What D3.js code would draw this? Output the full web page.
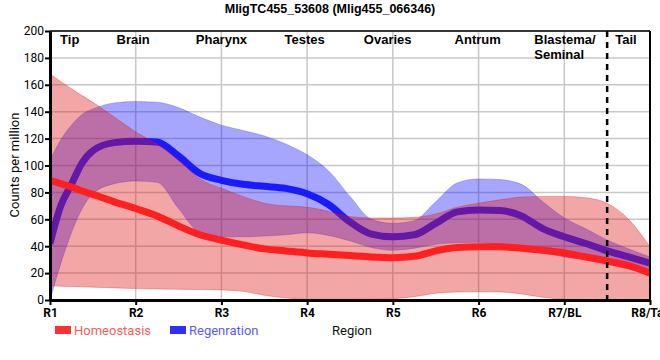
<!DOCTYPE html>
<html><head><meta charset="utf-8">
<script src="https://cdn.jsdelivr.net/npm/d3@7"></script>
<style>html,body{margin:0;padding:0;background:#fff;}svg{display:block;font-family:"Liberation Sans",Arial,sans-serif;}</style>
</head><body><svg id="c" width="660" height="360"></svg>
<script>
// ---- data ----
const title = "MligTC455_53608 (Mlig455_066346)";
const tickLabels = ["R1","R2","R3","R4","R5","R6","R7/BL","R8/Tail"];
const regionNames = ["Tip","Brain","Pharynx","Testes","Ovaries","Antrum","Blastema/|Seminal","Tail"];
const regionPos = [0.23,0.97,2.0,2.97,3.94,4.99,5.65,6.72];
const seriesNames = ["Homeostasis","Regenration"];
const yTicks = [0,20,40,60,80,100,120,140,160,180,200];
// sample positions (region units, 0 = R1)
const pos = [0,0.125,0.25,0.375,0.5,0.75,1,1.25,1.5,1.75,2,2.25,2.5,2.75,3,3.25,3.5,3.75,4,4.25,4.5,4.75,5,5.25,5.5,5.75,6,6.25,6.5,6.75,7];
const homeoMean  = [89,86.5,84,81,78.5,73,68,62.5,55,48.5,44.5,41,38,36.5,35,34,33,32,31.5,32.5,36.5,39,39.5,39.5,38.5,37,35,32,29,25.5,20];
const homeoUpper = [168,162.5,157,152,147,136,125,116,104,90,83,77,72,70,69,66,62,61,61,61.5,64,69,72,74.5,76.5,77,77,76,72,60,39.5];
const homeoLower = [10.5,10.3,10,9.8,9.5,9,8.5,8.2,8,7.8,7.5,6.5,3.5,1.5,0.5,0.5,0.5,0.7,1,2.5,5,6,6.2,6,4.5,2,0.5,0,0,0,0];
const regenMean  = [42,70,86,102,111,117,118,117.5,107,94,89,86,84.5,83,79,71,58,49,47,48.5,57,65.5,67,66.5,62.5,53,47,42,36.5,32,27.5];
const regenUpper = [104,119,130,138,142,146.5,147.5,147,143,136,130,126,122,116,108,96,77,60,57,59,73,87,90,89.5,86,73,61,53,44.6,38,32];
const regenLower = [0,27,50,68,79,86.5,88.5,87.5,68,50,47,47,47.5,48.5,50,48,44,39,37,38.5,41.5,42.5,43,41,39,35.5,32,30,27.5,24,21];

// ---- layout ----
const svg = d3.select("#c");
const L=50,R=650,T=31,B=300;
const x = d3.scaleLinear().domain([0,7]).range([L,R]);
const y = d3.scaleLinear().domain([0,200]).range([B,T]);
const red="#e01818", blue="#1a1aff";

svg.append("defs").append("clipPath").attr("id","clip").append("rect")
  .attr("x",L).attr("y",T).attr("width",R-L).attr("height",B-T);

// grid
const g = svg.append("g");
g.selectAll(".hg").data(yTicks.slice(1)).join("line")
  .attr("x1",L).attr("x2",R).attr("y1",d=>y(d)).attr("y2",d=>y(d))
  .attr("stroke","#c8c8c8").attr("stroke-width",1.5);
g.selectAll(".vg").data(d3.range(1,7)).join("line")
  .attr("x1",d=>x(d)).attr("x2",d=>x(d)).attr("y1",T).attr("y2",B)
  .attr("stroke","#c8c8c8").attr("stroke-width",1.5);

const curve = d3.curveMonotoneX;
const area = (up,lo)=> d3.area().curve(curve).x((d,i)=>x(pos[i])).y0((d,i)=>y(lo[i])).y1((d,i)=>y(up[i]))(pos);
const line = (m)=> d3.line().curve(curve).x((d,i)=>x(pos[i])).y((d,i)=>y(m[i]))(pos);

const plot = svg.append("g").attr("clip-path","url(#clip)");
plot.append("path").attr("d",area(regenUpper,regenLower)).attr("fill","#0000ff").attr("fill-opacity",0.35)
  .attr("stroke","#3030ff").attr("stroke-opacity",0.3).attr("stroke-width",1);
plot.append("path").attr("d",line(regenMean)).attr("fill","none").attr("stroke",blue).attr("stroke-width",7);
plot.append("path").attr("d",area(homeoUpper,homeoLower)).attr("fill","#dc1414").attr("fill-opacity",0.38)
  .attr("stroke","#dc1414").attr("stroke-opacity",0.3).attr("stroke-width",1);
plot.append("path").attr("d",line(homeoMean)).attr("fill","none").attr("stroke","#ff1f1f").attr("stroke-width",7);

// dashed divider
svg.append("line").attr("x1",x(6.5)).attr("x2",x(6.5)).attr("y1",T).attr("y2",B)
  .attr("stroke","#000").attr("stroke-width",2.5).attr("stroke-dasharray","6,5");

// frame
svg.append("line").attr("x1",L).attr("x2",R).attr("y1",T).attr("y2",T).attr("stroke","#000").attr("stroke-width",1.5);
svg.append("line").attr("x1",R).attr("x2",R).attr("y1",T).attr("y2",B).attr("stroke","#000").attr("stroke-width",2);

// axes
const yAxis = svg.append("g").attr("transform",`translate(${L},0)`)
  .call(d3.axisLeft(y).tickValues(yTicks).tickSize(5).tickSizeOuter(0));
const xAxis = svg.append("g").attr("transform",`translate(0,${B})`)
  .call(d3.axisBottom(x).tickValues(d3.range(0,8)).tickFormat(i=>tickLabels[i]).tickSize(5).tickSizeOuter(0));
[yAxis,xAxis].forEach(a=>{
  a.select(".domain").attr("stroke","#000").attr("stroke-width",3);
  a.selectAll(".tick line").attr("stroke","#000").attr("stroke-width",2);
  a.selectAll("text").attr("font-family","Roboto, 'Liberation Sans', Arial, sans-serif").attr("font-size",12).attr("fill","#000");
});
yAxis.selectAll("text").attr("x",-6);
xAxis.selectAll("text").attr("y",8).attr("font-weight","bold");

// region labels
regionNames.forEach((n,i)=>{
  const parts = n.split("|");
  const t = svg.append("text").attr("x",x(regionPos[i])).attr("y",44)
    .attr("font-size",13).attr("font-weight","bold").attr("fill","#000")
    .attr("text-anchor", parts.length>1 ? "start" : "middle");
  parts.forEach((p,j)=>t.append("tspan").attr("x",x(regionPos[i])).attr("dy",j?15:0).text(p));
});

// title
svg.append("text").attr("x",330).attr("y",13).attr("text-anchor","middle")
  .attr("font-size",12.5).attr("font-weight","bold").text(title);

// y label
svg.append("text").attr("transform","translate(19,165) rotate(-90)").attr("text-anchor","middle")
  .attr("font-family","Roboto, 'Liberation Sans', Arial, sans-serif").attr("font-size",13).text("Counts per million");

// x label
svg.append("text").attr("x",332).attr("y",335).attr("font-family","Roboto, 'Liberation Sans', Arial, sans-serif")
  .attr("font-size",13).attr("fill","#111").text("Region");

// legend
const legCols = [["#ff3030","#ff5a5a"],["#2e2eff","#5a5aff"]];
const legX = [55,170];
seriesNames.forEach((n,i)=>{
  svg.append("rect").attr("x",legX[i]).attr("y",326).attr("width",16).attr("height",8).attr("fill",legCols[i][0]);
  svg.append("text").attr("x",legX[i]+19).attr("y",335).attr("font-family","Roboto, 'Liberation Sans', Arial, sans-serif")
    .attr("font-size",13).attr("fill",legCols[i][1]).text(n);
});
</script></body></html>
